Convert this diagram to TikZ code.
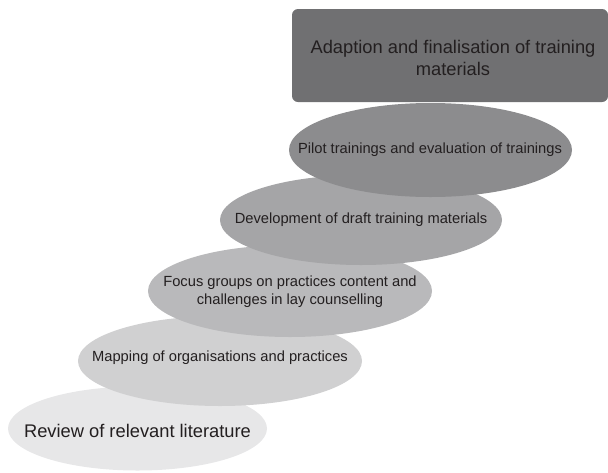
\documentclass[tikz,border=0pt]{standalone}
\usepackage{fontspec}
\setmainfont{Liberation Sans}
\definecolor{txt}{HTML}{231F20}
\definecolor{cR}{HTML}{E7E7E8}
\definecolor{cM}{HTML}{D0D0D1}
\definecolor{cF}{HTML}{B9B9BB}
\definecolor{cD}{HTML}{A5A5A7}
\definecolor{cP}{HTML}{8C8C8E}
\definecolor{cA}{HTML}{707072}
\begin{document}
\begin{tikzpicture}[x=1pt,y=-1pt,
  lbl/.style={text=txt,align=center,inner sep=0pt,font=\fontsize{14.7}{18}\selectfont},
  biglbl/.style={text=txt,align=center,inner sep=0pt,font=\fontsize{18.3}{22}\selectfont}]
\useasboundingbox (0,0) rectangle (608,472);
% ellipses, bottom first
\fill[cR] (137.5,428.5) ellipse [x radius=129.5pt, y radius=42pt];
\fill[cM] (220,361) ellipse [x radius=142pt, y radius=45pt];
\fill[cF] (290,291) ellipse [x radius=142pt, y radius=46pt];
\fill[cD] (361,220) ellipse [x radius=141pt, y radius=45pt];
\fill[cP] (430.5,150) ellipse [x radius=141.5pt, y radius=47pt];
\fill[cA, rounded corners=6pt] (292,9) rectangle (608,102);
% labels
\node[biglbl] (review) at (137.5,431) {Review of relevant literature};
\node[lbl] (mapping) at (220,358) {Mapping of organisations and practices};
\node[lbl] (focus) at (290,292) {Focus groups on practices content and\\challenges in lay counselling};
\node[lbl] (dev) at (361,220) {Development of draft training materials};
\node[lbl] (pilot) at (430,150) {Pilot trainings and evaluation of trainings};
\node[biglbl] (adapt) at (453,58) {Adaption and finalisation of training\\materials};
\end{tikzpicture}
\end{document}
